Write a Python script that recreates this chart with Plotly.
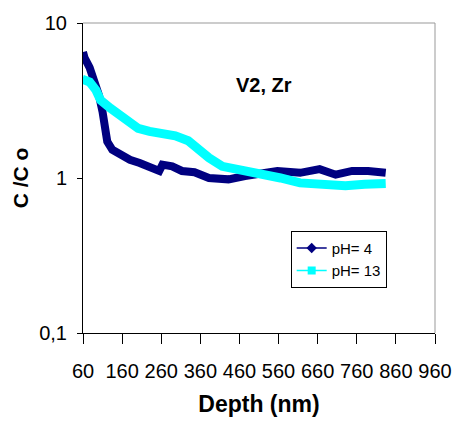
import plotly.graph_objects as go

# Data
depth_ph4 = [60, 64, 77, 89, 101, 110, 118, 122, 135, 155, 180, 205, 230, 255, 263, 288,
             313, 345, 382, 432, 474, 516, 557, 615, 665, 706, 748, 789, 834]
conc_ph4 = [6.5, 5.97, 5.15, 4.34, 3.4, 2.67, 2.09, 1.72, 1.52, 1.41, 1.31, 1.25, 1.16, 1.11, 1.22, 1.19,
            1.11, 1.09, 1.0, 0.98, 1.03, 1.08, 1.11, 1.08, 1.14, 1.05, 1.11, 1.11, 1.08]

depth_ph13 = [58, 77, 93, 105, 130, 155, 180, 201, 230, 263, 296, 329, 354, 382, 416,
              457, 516, 565, 615, 681, 731, 780, 834]
conc_ph13 = [4.34, 4.16, 3.69, 3.18, 2.82, 2.55, 2.32, 2.09, 2.0, 1.96, 1.87, 1.74, 1.54, 1.35, 1.19,
             1.14, 1.05, 1.0, 0.93, 0.91, 0.89, 0.91, 0.92]

series_names = ["pH= 4", "pH= 13"]
x_tickvals = [60, 160, 260, 360, 460, 560, 660, 760, 860, 960]
y_tickvals = [0.1, 1, 10]
y_ticktext = ["0,1", "1", "10"]

NAVY = "#000080"
CYAN = "#00FFFF"
SANS = "Liberation Sans, Arial, sans-serif"

fig = go.Figure()
fig.add_trace(go.Scatter(x=depth_ph4, y=conc_ph4, mode="lines",
                         line=dict(color=NAVY, width=8), showlegend=False))
fig.add_trace(go.Scatter(x=depth_ph13, y=conc_ph13, mode="lines",
                         line=dict(color=CYAN, width=9), showlegend=False))
# legend entries
fig.add_trace(go.Scatter(x=[None], y=[None], mode="lines+markers", name=series_names[0],
                         line=dict(color=NAVY, width=1.5),
                         marker=dict(symbol="diamond", size=8, color=NAVY)))
fig.add_trace(go.Scatter(x=[None], y=[None], mode="lines+markers", name=series_names[1],
                         line=dict(color=CYAN, width=1.5),
                         marker=dict(symbol="square", size=8, color=CYAN)))

fig.update_layout(
    width=464, height=424,
    margin=dict(l=83, r=18, t=20, b=88),
    paper_bgcolor="white", plot_bgcolor="white",
    font=dict(family=SANS, color="black"),
    legend=dict(x=0.59, y=0.33, xanchor="left", yanchor="top",
                bordercolor="black", borderwidth=1, bgcolor="white",
                font=dict(family=SANS, size=15), tracegroupgap=0),
    xaxis=dict(range=[60, 960], tickvals=x_tickvals, showgrid=False, zeroline=False,
               showline=True, linecolor="black", linewidth=1,
               ticks="outside", ticklen=10, tickcolor="black",
               tickfont=dict(family=SANS, size=20), ticklabelstandoff=10,
               title=dict(text="<b>Depth (nm)</b>", font=dict(family=SANS, size=23), standoff=14)),
    yaxis=dict(type="log", range=[-1, 1], tickvals=y_tickvals, ticktext=y_ticktext,
               showgrid=False, zeroline=False, showline=True, linecolor="black", linewidth=1,
               ticks="outside", ticklen=5, tickcolor="black",
               tickfont=dict(family=SANS, size=20), ticklabelstandoff=6,
               title=dict(text="<b>C /C o</b>", font=dict(family=SANS, size=21), standoff=4)),
    shapes=[
        dict(type="line", xref="paper", yref="paper", x0=0, x1=1, y0=1, y1=1,
             line=dict(color="#999999", width=1)),
        dict(type="line", xref="paper", yref="paper", x0=1, x1=1, y0=0, y1=1,
             line=dict(color="#999999", width=1)),
    ],
    annotations=[
        dict(text="<b>V2, Zr</b>", x=522, y=0.6, xref="x", yref="y", yanchor="middle",
             showarrow=False, font=dict(family=SANS, size=20, color="black")),
    ],
)

fig.write_html("out.html")
